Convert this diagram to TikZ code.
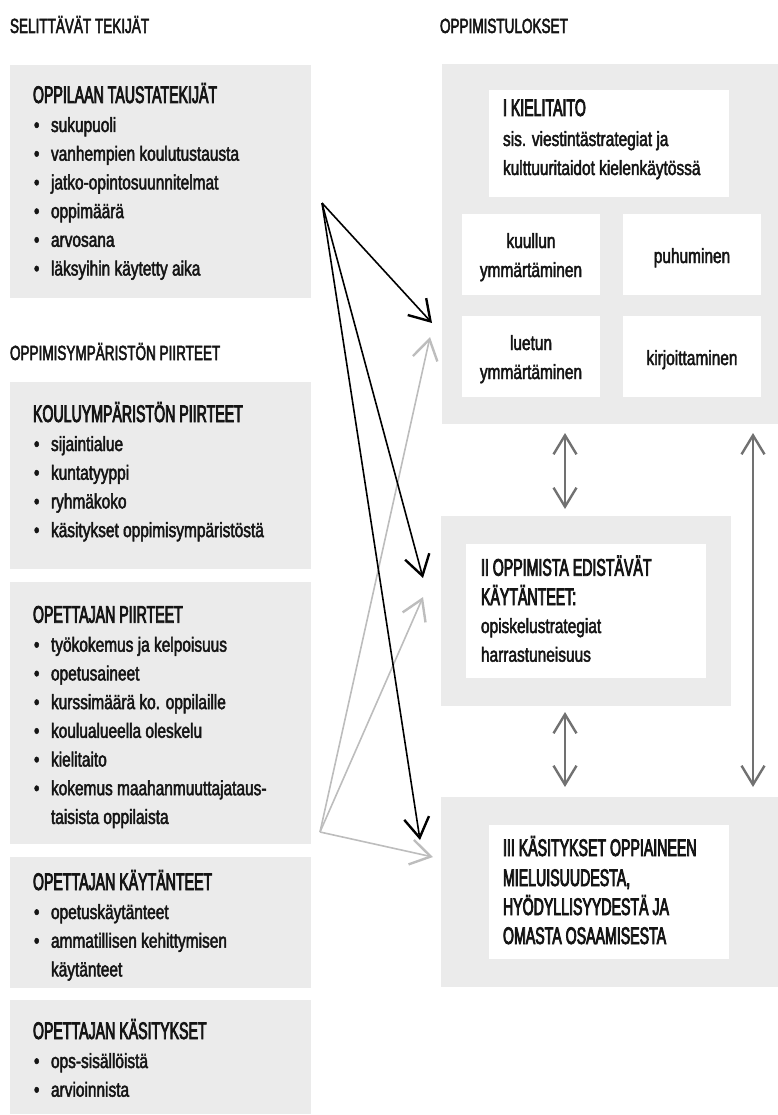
\documentclass[tikz,border=0pt]{standalone}
\usepackage{fontspec}
\setmainfont{Liberation Sans}
\newfontfamily\bodyfam{Liberation Sans}[FakeStretch=0.75,FakeBold=2.2]
\newfontfamily\capfam{Liberation Sans}[FakeStretch=0.59,FakeBold=3.2]
\newfontfamily\hdrfam{Liberation Sans}[FakeStretch=0.66,FakeBold=2.5]
\newcommand\bodyf{\bodyfam\fontsize{20.6}{24}\selectfont}
\newcommand\titlef{\capfam\fontsize{24}{28}\selectfont}
\newcommand\hdrf{\hdrfam\fontsize{20.5}{24}\selectfont}
\usetikzlibrary{arrows.meta}
\definecolor{boxgray}{HTML}{EBEBEB}
\definecolor{lightarr}{HTML}{BDBDBD}
\definecolor{darkarr}{HTML}{717171}
\definecolor{ink}{HTML}{151515}
\begin{document}
\begin{tikzpicture}[x=1pt,y=-1pt,
  greybox/.style={fill=boxgray, draw=none, anchor=north west, inner sep=0pt, outer sep=0pt},
  whitebox/.style={fill=white, draw=none, anchor=north west, inner sep=0pt, outer sep=0pt},
  txt/.style={anchor=base west, inner sep=0pt, outer sep=0pt, font=\bodyf, text=ink},
  ctxt/.style={anchor=base, inner sep=0pt, outer sep=0pt, font=\bodyf, text=ink},
  ttl/.style={anchor=base west, inner sep=0pt, outer sep=0pt, font=\titlef, text=ink},
  hdr/.style={anchor=base west, inner sep=0pt, outer sep=0pt, font=\hdrf, text=ink},
  blk/.style={line width=1.6pt, black, -{Straight Barb[length=20pt,width=25pt,line width=2.4pt]}},
  lgt/.style={line width=1.6pt, lightarr, -{Straight Barb[length=20pt,width=25pt,line width=2.4pt]}},
  dbl/.style={line width=2pt, darkarr, {Straight Barb[length=19pt,width=23pt,line width=2.4pt]}-{Straight Barb[length=19pt,width=23pt,line width=2.4pt]}}
]
\useasboundingbox (0,0) rectangle (778,1115);

% ---------- left column ----------
\node[hdr] (hL) at (10,33) {SELITTÄVÄT TEKIJÄT};

\node[greybox, minimum width=301pt, minimum height=233pt] (b1) at (10,65) {};
\node[ttl] (b1t) at (33,103) {OPPILAAN TAUSTATEKIJÄT};
\foreach \y/\t [count=\i] in {132/sukupuoli, 160.7/vanhempien koulutustausta, 189.4/jatko-opintosuunnitelmat, 218.1/oppimäärä, 246.8/arvosana, 275.5/läksyihin käytetty aika}{
  \node[txt] (b1b\i) at (34,\y) {•};
  \node[txt] (b1i\i) at (51,\y) {\t};
}

\node[hdr] (hE) at (10,360) {OPPIMISYMPÄRISTÖN PIIRTEET};

\node[greybox, minimum width=301pt, minimum height=187pt] (b2) at (10,382) {};
\node[ttl] (b2t) at (33,422) {KOULUYMPÄRISTÖN PIIRTEET};
\foreach \y/\t [count=\i] in {451/sijaintialue, 479.7/kuntatyyppi, 508.4/ryhmäkoko, 537.1/käsitykset oppimisympäristöstä}{
  \node[txt] (b2b\i) at (34,\y) {•};
  \node[txt] (b2i\i) at (51,\y) {\t};
}

\node[greybox, minimum width=301pt, minimum height=262pt] (b3) at (10,582) {};
\node[ttl] (b3t) at (33,622.7) {OPETTAJAN PIIRTEET};
\foreach \y/\t [count=\i] in {651.7/työkokemus ja kelpoisuus, 680.4/opetusaineet, 709.1/kurssimäärä ko. oppilaille, 737.8/koulualueella oleskelu, 766.5/kielitaito, 795.2/kokemus maahanmuuttajataus-}{
  \node[txt] (b3b\i) at (34,\y) {•};
  \node[txt] (b3i\i) at (51,\y) {\t};
}
\node[txt] (b3i7) at (51,823.9) {taisista oppilaista};

\node[greybox, minimum width=301pt, minimum height=131pt] (b4) at (10,857) {};
\node[ttl] (b4t) at (33,890) {OPETTAJAN KÄYTÄNTEET};
\foreach \y/\t [count=\i] in {919/opetuskäytänteet, 947.7/ammatillisen kehittymisen}{
  \node[txt] (b4b\i) at (34,\y) {•};
  \node[txt] (b4i\i) at (51,\y) {\t};
}
\node[txt] (b4i3) at (51,976.4) {käytänteet};

\node[greybox, minimum width=301pt, minimum height=114pt] (b5) at (10,1000) {};
\node[ttl] (b5t) at (33,1039) {OPETTAJAN KÄSITYKSET};
\foreach \y/\t [count=\i] in {1068/ops-sisällöistä, 1096.7/arvioinnista}{
  \node[txt] (b5b\i) at (34,\y) {•};
  \node[txt] (b5i\i) at (51,\y) {\t};
}

% ---------- right column ----------
\node[hdr] (hR) at (440,33) {OPPIMISTULOKSET};

\node[greybox, minimum width=336pt, minimum height=360pt] (rI) at (442,64) {};
\node[whitebox, minimum width=240pt, minimum height=107pt] (rIw) at (489,90) {};
\node[ttl] (rIt) at (503,116) {I KIELITAITO};
\node[txt] (rIa) at (503,146) {sis. viestintästrategiat ja};
\node[txt] (rIb) at (503,175) {kulttuuritaidot kielenkäytössä};

\node[whitebox, minimum width=138pt, minimum height=81pt] (s1) at (462,214) {};
\node[whitebox, minimum width=138pt, minimum height=81pt] (s2) at (623,214) {};
\node[whitebox, minimum width=138pt, minimum height=81pt] (s3) at (462,316) {};
\node[whitebox, minimum width=138pt, minimum height=81pt] (s4) at (623,316) {};
\node[ctxt] (s1a) at (531,248) {kuullun};
\node[ctxt] (s1b) at (531,277) {ymmärtäminen};
\node[ctxt] (s2a) at (692,263) {puhuminen};
\node[ctxt] (s3a) at (531,350) {luetun};
\node[ctxt] (s3b) at (531,379) {ymmärtäminen};
\node[ctxt] (s4a) at (692,365) {kirjoittaminen};

\node[greybox, minimum width=290pt, minimum height=190pt] (rII) at (441,516) {};
\node[whitebox, minimum width=240pt, minimum height=134pt] (rIIw) at (466,544) {};
\node[ttl] (rIIt1) at (481,575.7) {II OPPIMISTA EDISTÄVÄT};
\node[ttl] (rIIt2) at (481,605) {KÄYTÄNTEET:};
\node[txt] (rIIa) at (481,633) {opiskelustrategiat};
\node[txt] (rIIb) at (481,661.7) {harrastuneisuus};

\node[greybox, minimum width=337pt, minimum height=190pt] (rIII) at (441,797) {};
\node[whitebox, minimum width=240pt, minimum height=134pt] (rIIIw) at (489,825) {};
\node[ttl] (rIIIt1) at (503,856) {III KÄSITYKSET OPPIAINEEN};
\node[ttl] (rIIIt2) at (503,886) {MIELUISUUDESTA,};
\node[ttl] (rIIIt3) at (503,915) {HYÖDYLLISYYDESTÄ JA};
\node[ttl] (rIIIt4) at (503,944) {OMASTA OSAAMISESTA};

% ---------- connectors ----------
\coordinate (srcA) at (322,203);
\coordinate (srcB) at (320,832);
\coordinate (tA1) at (432,323);
\coordinate (tA2) at (423,578);
\coordinate (tA3) at (420,840);
\coordinate (tB1) at (430,337);
\coordinate (tB2) at (423,597);
\coordinate (tB3) at (433,857);

\draw[lgt] (srcB) -- (tB1);
\draw[lgt] (srcB) -- (tB2);
\draw[lgt] (srcB) -- (tB3);
\draw[blk] (srcA) -- (tA1);
\draw[blk] (srcA) -- (tA2);
\draw[blk] (srcA) -- (tA3);

\coordinate (d1a) at (565,433);
\coordinate (d1b) at (565,509);
\coordinate (d2a) at (565,712);
\coordinate (d2b) at (565,787);
\coordinate (d3a) at (753,433);
\coordinate (d3b) at (753,787);
\draw[dbl] (d1a) -- (d1b);
\draw[dbl] (d2a) -- (d2b);
\draw[dbl] (d3a) -- (d3b);
\end{tikzpicture}
\end{document}
